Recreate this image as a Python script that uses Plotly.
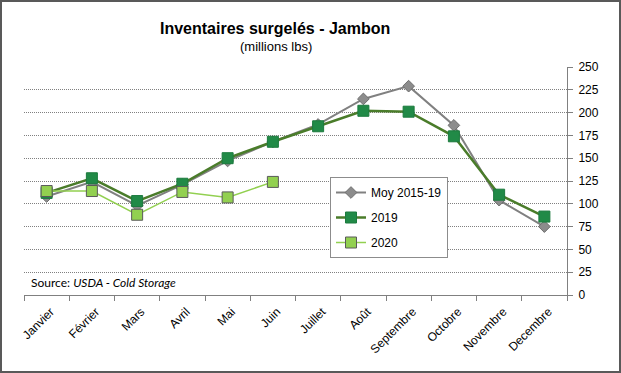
import plotly.graph_objects as go

months = ["Janvier", "Février", "Mars", "Avril", "Mai", "Juin", "Juillet",
          "Août", "Septembre", "Octobre", "Novembre", "Decembre"]
moy_2015_19 = [108, 124, 98, 121, 147, 168, 187, 215, 229, 186, 104, 75]
y2019 = [112, 128, 103, 122, 150, 168, 185, 202, 201, 174, 110, 86]
y2020 = [114, 114, 88, 113, 107, 124]

W, H = 621, 373
L, R, T, B = 24, 54, 67, 78
PW, PH = W - L - R, H - T - B

fig = go.Figure()
fig.add_trace(go.Scatter(
    x=months, y=moy_2015_19, name="Moy 2015-19", mode="lines+markers",
    line=dict(color="#808080", width=2),
    marker=dict(symbol="diamond", size=9, color="#8c8c8c", line=dict(color="#6e6e6e", width=1)),
    legendgroup="a"))
fig.add_trace(go.Scatter(
    x=months, y=y2019, name="2019", mode="lines+markers",
    line=dict(color="#4a7c2a", width=2.5),
    marker=dict(symbol="square", size=11, color="#218a47", line=dict(color="#1c7a3e", width=1)),
    legendgroup="b"))
fig.add_trace(go.Scatter(
    x=months[:len(y2020)], y=y2020, name="2020", mode="lines+markers",
    line=dict(color="#92d050", width=1.5),
    marker=dict(symbol="square", size=11, color="#92d050", line=dict(color="#5a5a5a", width=1)),
    legendgroup="c"))

def px_x(p):
    return (p - L) / PW

def px_y(p):
    return (H - B - p) / PH

fig.update_layout(
    width=W, height=H,
    margin=dict(l=L, r=R, t=T, b=B, pad=0),
    paper_bgcolor="white", plot_bgcolor="white",
    font=dict(family="Liberation Sans, Arial", color="#000000"),
    showlegend=True,
    legend=dict(x=px_x(330), y=px_y(177), xanchor="left", yanchor="top",
                bgcolor="white", bordercolor="#8c8c8c", borderwidth=1,
                font=dict(size=12, family="Liberation Sans, Arial"),
                tracegroupgap=6, itemwidth=30, traceorder="grouped"),
    xaxis=dict(type="category", range=[-0.5, 11.5], tickson="boundaries",
               showline=True, linecolor="#808080", linewidth=1,
               ticks="outside", ticklen=5, tickcolor="#808080",
               tickangle=-45, tickfont=dict(size=12), showgrid=False,
               ticklabelstandoff=4, ticklabelshift=4),
    yaxis=dict(side="right", range=[0, 250], dtick=25, showline=True,
               linecolor="#808080", linewidth=1, ticks="outside", ticklen=5,
               tickcolor="#808080", tickfont=dict(size=12), ticklabelstandoff=3,
               showgrid=True, gridcolor="#808080", gridwidth=1, griddash="1px,1px",
               zeroline=False),
    annotations=[
        dict(text="<b>Inventaires surgelés - Jambon</b>", xref="paper", yref="paper",
             x=px_x(275), y=px_y(29), xanchor="center", yanchor="middle",
             showarrow=False, font=dict(size=16, family="Liberation Sans, Arial")),
        dict(text="(millions lbs)", xref="paper", yref="paper",
             x=px_x(276), y=px_y(47), xanchor="center", yanchor="middle",
             showarrow=False, font=dict(size=13, family="Liberation Sans, Arial")),
        dict(text="Source: <i>USDA - Cold Storage</i>", xref="paper", yref="paper",
             x=px_x(29), y=px_y(282), xanchor="left", yanchor="middle",
             showarrow=False, font=dict(size=12, family="Lato")),
    ],
    shapes=[dict(type="rect", xref="paper", yref="paper",
                 x0=px_x(1), x1=px_x(620), y0=px_y(1), y1=px_y(372),
                 line=dict(color="#595959", width=2), fillcolor="rgba(0,0,0,0)", layer="below")],
)

fig.write_html("out.html", config={"displayModeBar": False},
               post_script="document.body.style.margin='0';document.body.style.padding='0';")
